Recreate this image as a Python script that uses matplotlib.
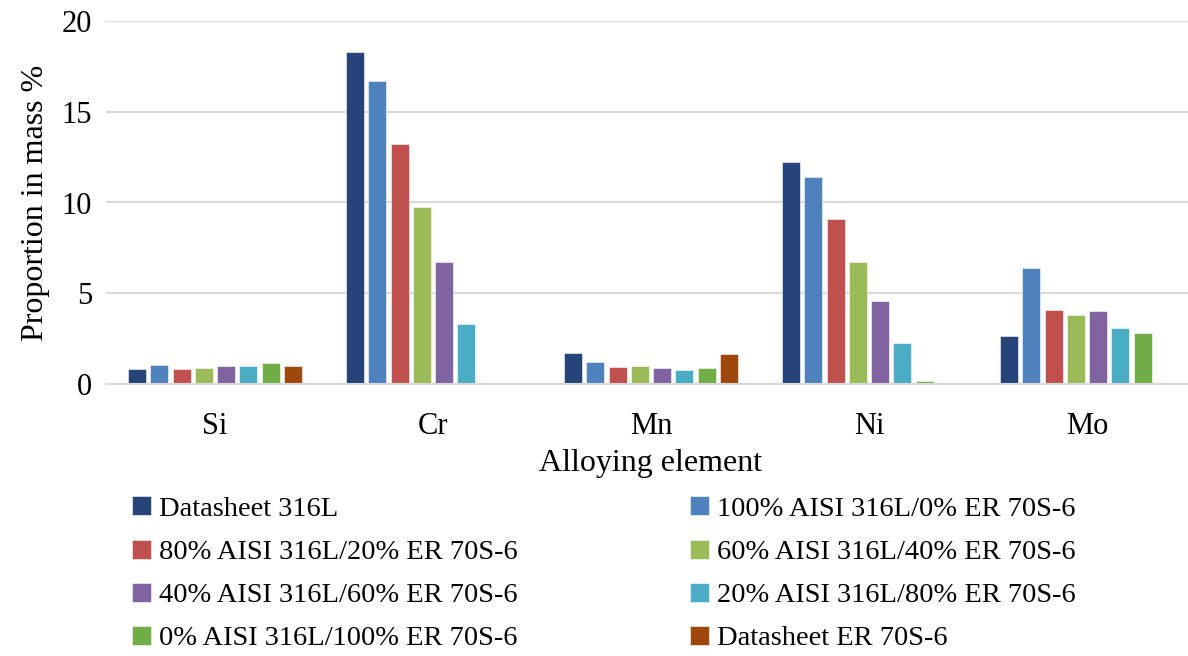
import numpy as np
import matplotlib
matplotlib.use("Agg")
import matplotlib.pyplot as plt

plt.rcParams['font.family'] = ['Liberation Serif', 'DejaVu Serif']

elements = ["Si", "Cr", "Mn", "Ni", "Mo"]

series_names = [
    "Datasheet 316L",
    "100% AISI 316L/0% ER 70S-6",
    "80% AISI 316L/20% ER 70S-6",
    "60% AISI 316L/40% ER 70S-6",
    "40% AISI 316L/60% ER 70S-6",
    "20% AISI 316L/80% ER 70S-6",
    "0% AISI 316L/100% ER 70S-6",
    "Datasheet ER 70S-6",
]

# values per element: Si, Cr, Mn, Ni, Mo
datasheet_316l = [0.85, 18.27, 1.69, 12.21, 2.63]
mix_100_0 = [1.03, 16.68, 1.21, 11.42, 6.39]
mix_80_20 = [0.85, 13.24, 0.95, 9.09, 4.10]
mix_60_40 = [0.88, 9.75, 0.99, 6.70, 3.80]
mix_40_60 = [0.99, 6.74, 0.88, 4.55, 4.02]
mix_20_80 = [0.97, 3.29, 0.77, 2.26, 3.09]
mix_0_100 = [1.14, 0.07, 0.88, 0.17, 2.79]
datasheet_er70s6 = [0.97, 0.0, 1.67, 0.0, 0.0]

all_series = [datasheet_316l, mix_100_0, mix_80_20, mix_60_40,
              mix_40_60, mix_20_80, mix_0_100, datasheet_er70s6]

colors = ["#264478", "#4F81BD", "#C0504D", "#9BBB59",
          "#8064A2", "#4BACC6", "#70AD47", "#9E480E"]

fig = plt.figure(figsize=(11.88, 6.56), dpi=100)
ax = fig.add_axes([106 / 1188, 1 - 384 / 656, 1090 / 1188, 363 / 656])

x = np.arange(len(elements))
pitch = 0.1023
width = 0.083
n = len(all_series)
bars = []
for i, (vals, name, c) in enumerate(zip(all_series, series_names, colors)):
    offs = (i - (n - 1) / 2) * pitch
    b = ax.bar(x + offs, vals, width, color=c, label=name,
               edgecolor="white", linewidth=0.4)
    bars.append(b)

ax.set_xlim(-0.5, len(elements) - 0.5)
ax.set_ylim(0, 20)
ax.set_yticks([0, 5, 10, 15, 20])
ax.set_xticks(x)
ax.set_xticklabels(elements)
ax.tick_params(axis="both", length=0, labelsize=22)
ax.tick_params(axis="x", pad=20)
ax.tick_params(axis="y", pad=10)
ax.yaxis.grid(True, color="#D9D9D9", linewidth=1.5)
ax.set_axisbelow(True)
for s in ["top", "right", "left"]:
    ax.spines[s].set_visible(False)
ax.spines["bottom"].set_color("#D9D9D9")
ax.spines["bottom"].set_linewidth(1.5)

ax.set_xlabel("Alloying element", fontsize=23, labelpad=6)
ax.set_ylabel("Proportion in mass %", fontsize=23, labelpad=8)

# legend fills row by row in the reference
order = [0, 2, 4, 6, 1, 3, 5, 7]
fig.legend([bars[i] for i in order], [series_names[i] for i in order],
           loc="upper left", bbox_to_anchor=(121 / 1188, 1 - 485 / 656),
           ncol=2, frameon=False, fontsize=20.5,
           handlelength=0.65, handleheight=0.65, handletextpad=0.3,
           columnspacing=6.05, labelspacing=0.62, borderaxespad=0)

fig.savefig("out.png", dpi=100)
